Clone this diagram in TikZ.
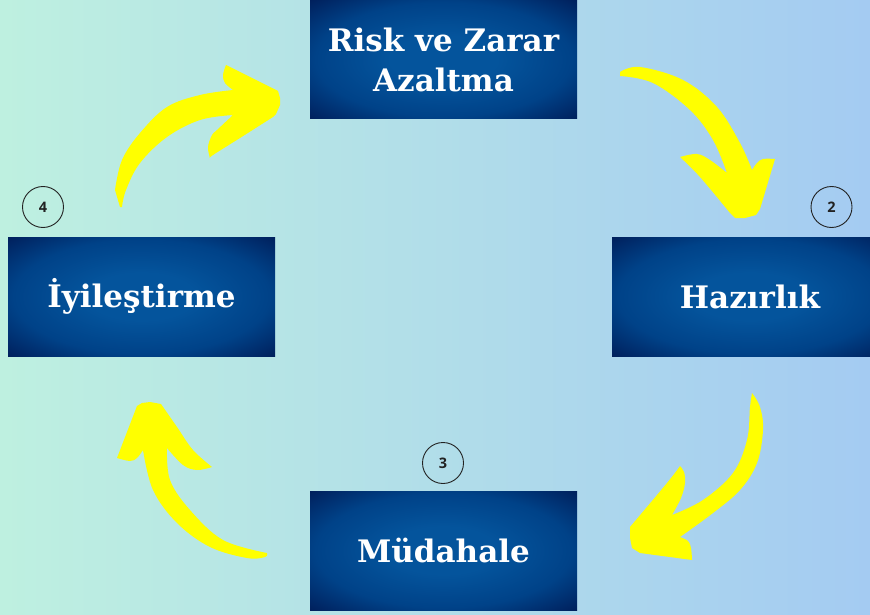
\documentclass[tikz,border=0pt]{standalone}
\usepackage{fontspec}
\setmainfont{DejaVu Serif}
\newfontfamily\numfont{Open Sans}
\definecolor{bgL}{RGB}{190,240,224}
\definecolor{bgR}{RGB}{164,203,242}
\definecolor{boxC}{RGB}{4,84,156}
\definecolor{boxM}{RGB}{0,66,136}
\definecolor{boxE}{RGB}{0,30,90}
\definecolor{arrowY}{RGB}{255,255,0}
\definecolor{ringC}{RGB}{34,34,34}
\pgfdeclareradialshading{boxshade}{\pgfpoint{0bp}{0bp}}{color(0bp)=(boxC); color(10bp)=(boxC); color(24bp)=(boxM); color(36bp)=(boxE); color(50bp)=(boxE)}
\tikzset{
  stagebox/.style={shading=boxshade, minimum width=267pt, minimum height=119pt, inner sep=0pt,
     text=white, font=\bfseries\fontsize{31}{40}\selectfont, align=center},
  numring/.style={circle, draw=ringC, line width=0.9pt, minimum size=41pt, inner sep=0pt,
     font=\numfont\bfseries\fontsize{14.5}{14.5}\selectfont, text=ringC},
  blockarrow/.style={fill=arrowY, draw=none}
}
\begin{document}
\begin{tikzpicture}[x=1pt,y=-1pt]
\useasboundingbox (0,0) rectangle (870,615);
\clip (0,0) rectangle (870,615);
\fill[left color=bgL, right color=bgR] (0,0) rectangle (870,615);

% boxes
\node[stagebox] (risk) at (443.5,59.5) {Risk ve Zarar\\Azaltma};
\node[stagebox, minimum width=276pt] (haz) at (750,296.5) {Hazırlık};
\node[stagebox] (mud) at (443.5,550.5) {Müdahale};
\node[stagebox] (iyi) at (141.5,296.5) {İyileştirme};

% number rings
\node[numring] (n2) at (831.5,207) {2};
\node[numring] (n3) at (443,463) {3};
\node[numring] (n4) at (43,207) {4};

% arrow 1: Iyilestirme -> Risk
\fill[blockarrow] (120,207)
  -- plot[smooth,tension=0.6] coordinates {(115,190) (122,160) (140,133) (167,107) (200,95) (233,90)}
  -- plot[smooth,tension=0.6] coordinates {(233,90) (225,83) (223,75) (226,65)}
  -- (278,91) -- (280,98) -- (280,105) -- (276,114)
  -- plot[smooth,tension=0.6] coordinates {(273,117) (240,138) (213,155) (210,158)}
  -- plot[smooth,tension=0.6] coordinates {(210,158) (208,147) (212,135) (217,130) (233,115)}
  -- plot[smooth,tension=0.6] coordinates {(233,115) (200,120) (167,137) (140,163) (126,190) (122,207)}
  -- cycle;

% arrow 2: Risk -> Hazirlik
\fill[blockarrow] (620,76)
  -- plot[smooth,tension=0.6] coordinates {(620,72) (640,67) (683,80) (717,107) (740,143) (752,170)}
  -- plot[smooth,tension=0.6] coordinates {(752,170) (757,163) (763,159) (775,159)}
  -- (760,209) -- (756,215) -- (745,218) -- (735,218) -- (730,213)
  -- plot[smooth,tension=0.6] coordinates {(730,213) (700,177) (680,157)}
  -- plot[smooth,tension=0.6] coordinates {(680,157) (697,154) (710,160) (727,173)}
  -- plot[smooth,tension=0.6] coordinates {(727,173) (713,140) (690,110) (653,83) (620,76)}
  -- cycle;

% arrow 3: Hazirlik -> Mudahale
\fill[blockarrow] (752,393)
  -- plot[smooth,tension=0.6] coordinates {(752,393) (760,407) (763,430) (757,463) (740,490) (713,513) (680,537)}
  -- plot[smooth,tension=0.6] coordinates {(680,537) (688,541) (691,548) (692,560)}
  -- (640,553) -- (632,548) -- (630,538) -- (630,527)
  -- plot[smooth,tension=0.6] coordinates {(630,527) (667,483) (680,466)}
  -- plot[smooth,tension=0.6] coordinates {(680,466) (684,472) (685,483) (681,498) (672,515)}
  -- plot[smooth,tension=0.6] coordinates {(672,515) (703,500) (733,473) (747,440) (750,407) (752,393)}
  -- cycle;

% arrow 4: Mudahale -> Iyilestirme
\fill[blockarrow] (267,553)
  -- plot[smooth,tension=0.6] coordinates {(267,553) (265,557) (247,558) (210,547) (177,523) (153,490) (143,450)}
  -- plot[smooth,tension=0.6] coordinates {(143,450) (137,458) (130,461) (117,458)}
  -- (137,406) -- (142,403) -- (150,402) -- (161,404)
  -- plot[smooth,tension=0.6] coordinates {(161,404) (177,427) (193,450) (212,467)}
  -- plot[smooth,tension=0.6] coordinates {(212,467) (197,470) (183,465) (167,448)}
  -- plot[smooth,tension=0.6] coordinates {(167,448) (170,480) (190,510) (223,540) (267,553)}
  -- cycle;
\end{tikzpicture}
\end{document}
